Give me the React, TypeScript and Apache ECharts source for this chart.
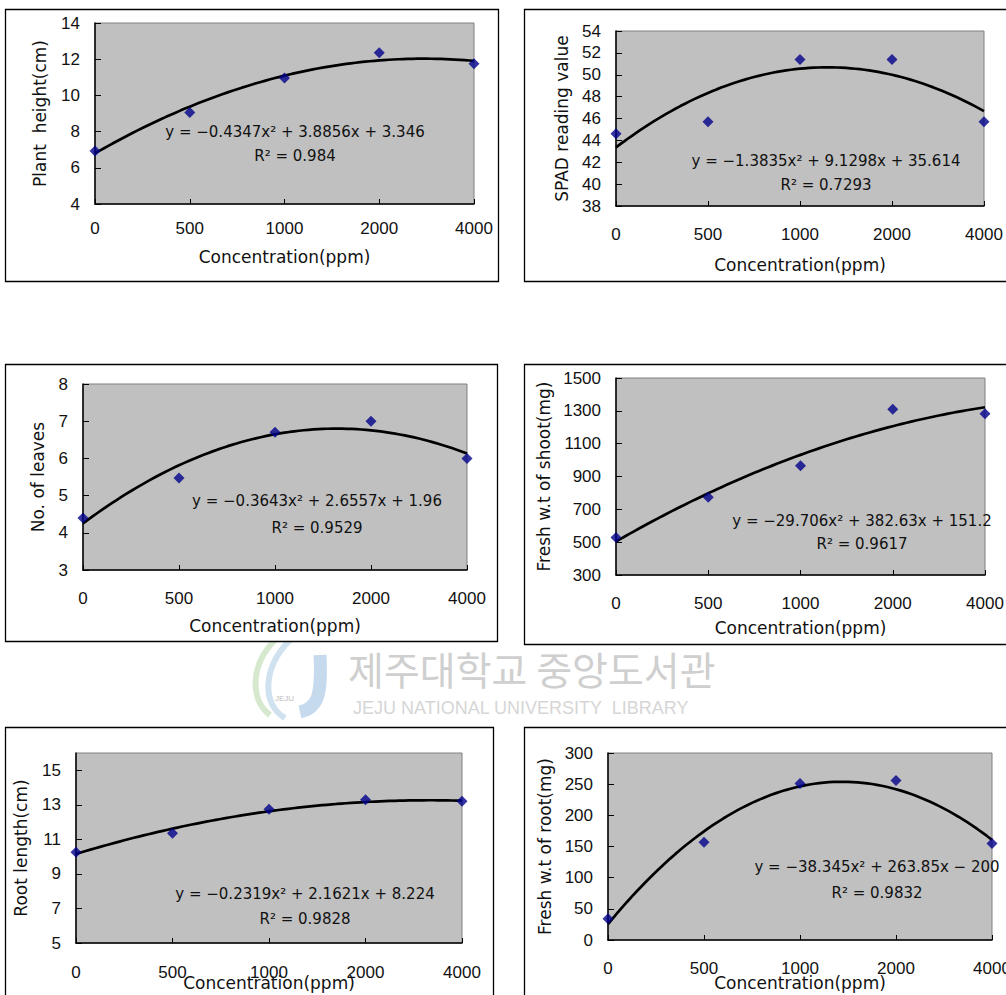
import React, { useEffect, useRef } from "react";
import * as echarts from "echarts";

// ---------- data ----------
const xLabels = ["0", "500", "1000", "2000", "4000"];

const plantHeight = [6.93, 9.06, 10.96, 12.36, 11.75];
const spadValue = [44.6, 45.7, 51.4, 51.4, 45.7];
const leavesCount = [4.4, 5.47, 6.7, 7.0, 6.0];
const shootWeight = [528, 774, 965, 1309, 1282];
const rootLength = [10.25, 11.35, 12.75, 13.3, 13.2];
const rootWeight = [34, 157, 251, 256, 155];

// trendline coefficients [a, b, c] for y = a x^2 + b x + c (x = 1..5)
const plantHeightFit = [-0.4347, 3.8856, 3.346];
const spadFit = [-1.3835, 9.1298, 35.614];
const leavesFit = [-0.3643, 2.6557, 1.96];
const shootFit = [-29.706, 382.63, 151.2];
const rootLengthFit = [-0.2319, 2.1621, 8.224];
const rootWeightFit = [-38.345, 263.85, -200];

const plantHeightEq = ["y = −0.4347x² + 3.8856x + 3.346", "R² = 0.984"];
const spadEq = ["y = −1.3835x² + 9.1298x + 35.614", "R² = 0.7293"];
const leavesEq = ["y = −0.3643x² + 2.6557x + 1.96", "R² = 0.9529"];
const shootEq = ["y = −29.706x² + 382.63x + 151.2", "R² = 0.9617"];
const rootLengthEq = ["y = −0.2319x² + 2.1621x + 8.224", "R² = 0.9828"];
const rootWeightEq = ["y = −38.345x² + 263.85x − 200", "R² = 0.9832"];

const yTitles = [
  "Plant  height(cm)",
  "SPAD reading value",
  "No. of leaves",
  "Fresh w.t of shoot(mg)",
  "Root length(cm)",
  "Fresh w.t of root(mg)",
];
const xTitle = "Concentration(ppm)";

// ---------- layout ----------
const TICK_FONT = "Liberation Sans";
const TITLE_FONT = "DejaVu Sans";

type Panel = {
  values: number[];
  fit: number[];
  eq: string[];
  yTitle: string;
  grid: { left: number; top: number; width: number; height: number };
  frame: { x: number; y: number; w: number; h: number };
  yMin: number;
  yMax: number;
  yInterval?: number;
  yCustom?: number[];
  yNameGap: number;
  xNameGap: number;
  xLabelMargin: number;
  eqPos: { x: number; y1: number; y2: number };
};

const panels: Panel[] = [
  {
    values: plantHeight, fit: plantHeightFit, eq: plantHeightEq, yTitle: yTitles[0],
    grid: { left: 95, top: 23, width: 379, height: 181 },
    frame: { x: 5, y: 9, w: 493, h: 272 },
    yMin: 4, yMax: 14, yInterval: 2, yNameGap: 47, xNameGap: 44, xLabelMargin: 16,
    eqPos: { x: 295, y1: 132, y2: 156 },
  },
  {
    values: spadValue, fit: spadFit, eq: spadEq, yTitle: yTitles[1],
    grid: { left: 616, top: 31, width: 368, height: 175 },
    frame: { x: 524, y: 9, w: 500, h: 272 },
    yMin: 38, yMax: 54, yInterval: 2, yNameGap: 46, xNameGap: 50, xLabelMargin: 20,
    eqPos: { x: 826, y1: 161, y2: 185 },
  },
  {
    values: leavesCount, fit: leavesFit, eq: leavesEq, yTitle: yTitles[2],
    grid: { left: 83, top: 384, width: 384, height: 186 },
    frame: { x: 5, y: 364, w: 492, h: 277 },
    yMin: 3, yMax: 8, yInterval: 1, yNameGap: 37, xNameGap: 47, xLabelMargin: 20,
    eqPos: { x: 317, y1: 501, y2: 528 },
  },
  {
    values: shootWeight, fit: shootFit, eq: shootEq, yTitle: yTitles[3],
    grid: { left: 616, top: 378, width: 369, height: 197 },
    frame: { x: 524, y: 364, w: 500, h: 280 },
    yMin: 300, yMax: 1500, yCustom: [300, 500, 700, 900, 1100, 1300, 1500],
    yNameGap: 64, xNameGap: 44, xLabelMargin: 20,
    eqPos: { x: 862, y1: 521, y2: 544 },
  },
  {
    values: rootLength, fit: rootLengthFit, eq: rootLengthEq, yTitle: yTitles[4],
    grid: { left: 76, top: 753, width: 386, height: 190 },
    frame: { x: 5, y: 727, w: 488, h: 290 },
    yMin: 5, yMax: 16, yCustom: [5, 7, 9, 11, 13, 15],
    yNameGap: 47, xNameGap: 31, xLabelMargin: 21,
    eqPos: { x: 305, y1: 894, y2: 919 },
  },
  {
    values: rootWeight, fit: rootWeightFit, eq: rootWeightEq, yTitle: yTitles[5],
    grid: { left: 608, top: 753, width: 384, height: 187 },
    frame: { x: 524, y: 727, w: 500, h: 290 },
    yMin: 0, yMax: 300, yInterval: 50, yNameGap: 55, xNameGap: 34, xLabelMargin: 20,
    eqPos: { x: 877, y1: 867, y2: 893 },
  },
];

// trendline drawn from the printed equation
function trend(coef: number[]): number[][] {
  const pts: number[][] = [];
  for (let i = 0; i <= 80; i++) {
    const x = 1 + i * 0.05;
    pts.push([x, coef[0] * x * x + coef[1] * x + coef[2]]);
  }
  return pts;
}

function buildOption() {
  const grid: any[] = [];
  const xAxis: any[] = [];
  const yAxis: any[] = [];
  const series: any[] = [];
  const graphic: any[] = [];

  // watermark
  graphic.push({
    type: "text", left: 348, top: 648, silent: true, z: 0,
    style: { text: "제주대학교 중앙도서관", font: '39px "Noto Sans CJK KR"', fill: "#cfcfcf" },
  });
  graphic.push({
    type: "text", left: 353, top: 699, silent: true, z: 0,
    style: { text: "JEJU NATIONAL UNIVERSITY  LIBRARY", font: '18px "Liberation Sans"', fill: "#d6d6d6" },
  });
  graphic.push({
    type: "bezierCurve", silent: true, z: 0,
    shape: { x1: 320, y1: 655, x2: 300, y2: 712, cpx1: 322, cpy1: 695, cpx2: 318, cpy2: 708 },
    style: { stroke: "#c6daee", lineWidth: 13, fill: "none" },
  });
  graphic.push({
    type: "bezierCurve", silent: true, z: 0,
    shape: { x1: 275, y1: 640, x2: 270, y2: 715, cpx1: 250, cpy1: 665, cpx2: 250, cpy2: 700 },
    style: { stroke: "#d6e9cf", lineWidth: 6, fill: "none" },
  });
  graphic.push({
    type: "bezierCurve", silent: true, z: 0,
    shape: { x1: 290, y1: 640, x2: 285, y2: 718, cpx1: 262, cpy1: 668, cpx2: 262, cpy2: 705 },
    style: { stroke: "#d0e1f0", lineWidth: 6, fill: "none" },
  });
  graphic.push({
    type: "text", left: 275, top: 694, silent: true, z: 0,
    style: { text: "JEJU", font: '8px "Liberation Sans"', fill: "#bdbdbd" },
  });

  panels.forEach((p, i) => {
    graphic.push({
      type: "rect", silent: true, z: 1,
      shape: { x: p.frame.x + 0.5, y: p.frame.y + 0.5, width: p.frame.w, height: p.frame.h },
      style: { fill: "#ffffff", stroke: "#000000", lineWidth: 1.3 },
    });
    graphic.push({
      type: "text", silent: true, z: 100,
      x: p.eqPos.x, y: p.eqPos.y1,
      style: { text: p.eq[0], font: `15px "${TITLE_FONT}"`, fill: "#111", align: "center", verticalAlign: "middle" },
    });
    graphic.push({
      type: "text", silent: true, z: 100,
      x: p.eqPos.x, y: p.eqPos.y2,
      style: { text: p.eq[1], font: `15px "${TITLE_FONT}"`, fill: "#111", align: "center", verticalAlign: "middle" },
    });

    grid.push({
      ...p.grid,
      show: true,
      backgroundColor: "#c0c0c0",
      borderColor: "#808080",
      borderWidth: 1,
      containLabel: false,
      outerBoundsMode: "none",
      z: 2,
    });

    xAxis.push({
      type: "value",
      gridIndex: i,
      min: 1,
      max: 5,
      interval: 1,
      name: xTitle,
      nameLocation: "middle",
      nameGap: p.xNameGap,
      nameMoveOverlap: false,
      nameTextStyle: { fontFamily: TITLE_FONT, fontSize: 17, color: "#111" },
      axisLine: { show: true, onZero: false, lineStyle: { color: "#000", width: 1.5 } },
      axisTick: { show: true, inside: true, length: 5, lineStyle: { color: "#000" } },
      axisLabel: {
        margin: p.xLabelMargin,
        fontFamily: TICK_FONT,
        fontSize: 17,
        color: "#111",
        formatter: (v: number) => xLabels[Math.round(v) - 1] ?? "",
      },
      splitLine: { show: false },
      z: 3,
    });

    const yAx: any = {
      type: "value",
      gridIndex: i,
      min: p.yMin,
      max: p.yMax,
      name: p.yTitle,
      nameLocation: "middle",
      nameRotate: 90,
      nameGap: p.yNameGap,
      nameMoveOverlap: false,
      nameTextStyle: { fontFamily: TITLE_FONT, fontSize: 17, color: "#111" },
      axisLine: { show: true, onZero: false, lineStyle: { color: "#000", width: 1.5 } },
      axisTick: { show: true, inside: true, length: 6, lineStyle: { color: "#000" } },
      axisLabel: {
        margin: 15,
        fontFamily: TICK_FONT,
        fontSize: 17,
        color: "#111",
        formatter: (v: number) => String(v),
      },
      splitLine: { show: false },
      z: 3,
    };
    if (p.yInterval !== undefined) {
      yAx.interval = p.yInterval;
    } else if (p.yCustom) {
      yAx.axisLabel.customValues = p.yCustom;
      yAx.axisTick.customValues = p.yCustom;
    }
    yAxis.push(yAx);

    series.push({
      type: "line",
      xAxisIndex: i,
      yAxisIndex: i,
      data: trend(p.fit),
      showSymbol: false,
      symbol: "none",
      lineStyle: { color: "#000", width: 2.7 },
      z: 4,
      silent: true,
    });
    series.push({
      type: "scatter",
      xAxisIndex: i,
      yAxisIndex: i,
      data: p.values.map((v, k) => [k + 1, v]),
      symbol: "diamond",
      symbolSize: [11, 11],
      itemStyle: { color: "#00008b" },
      z: 5,
      silent: true,
    });
  });

  return { animation: false, backgroundColor: "#ffffff", grid, xAxis, yAxis, series, graphic };
}

export default function App() {
  const ref = useRef<HTMLDivElement>(null);
  useEffect(() => {
    if (!ref.current) return;
    const chart = echarts.init(ref.current, undefined, { renderer: "svg" });
    chart.setOption(buildOption() as any);
    return () => chart.dispose();
  }, []);
  return (
    <div
      ref={ref}
      style={{ position: "absolute", left: 0, top: 0, width: 1006, height: 995, background: "#fff" }}
    />
  );
}
